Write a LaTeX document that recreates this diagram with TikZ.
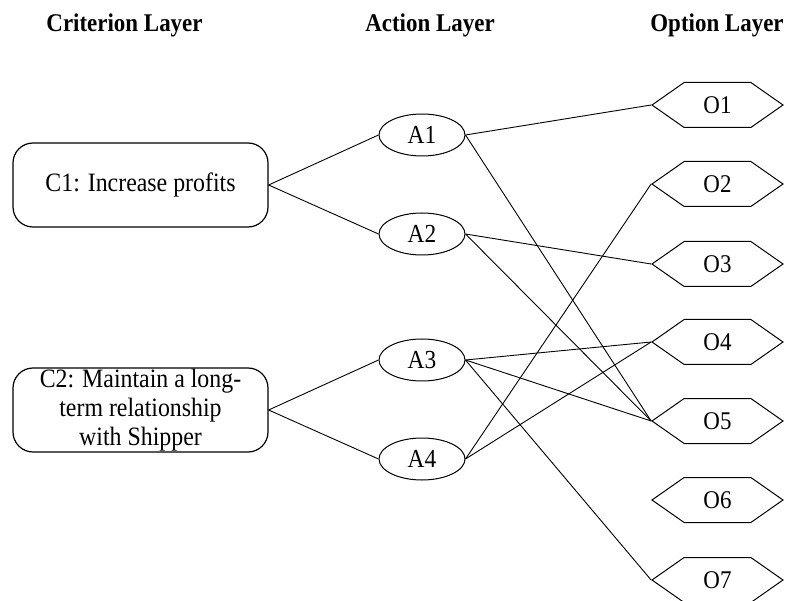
\documentclass[tikz,border=0pt]{standalone}
\usepackage{fontspec}
\setmainfont[FakeStretch=0.9]{Liberation Serif}
\usetikzlibrary{shapes.geometric,shapes.symbols}

\begin{document}
\begin{tikzpicture}[x=1pt,y=-1pt,
    crit/.style={draw,rounded corners=20pt,minimum width=255pt,minimum height=84pt,inner sep=0pt,align=center,font=\fontsize{26.5}{29}\selectfont,line width=1.2pt},
    act/.style={draw,ellipse,minimum width=86pt,minimum height=42pt,inner sep=0pt,font=\fontsize{26}{30}\selectfont,line width=1pt},
    opt/.style={draw,signal,signal to=west and east,signal pointer angle=70,minimum width=131pt,minimum height=45pt,inner sep=0pt,font=\fontsize{25.5}{30}\selectfont,line width=1pt},
    layer/.style={font=\bfseries\fontsize{25.5}{30}\selectfont,anchor=base},
    link/.style={line width=0.9pt}]
  \useasboundingbox (0,0) rectangle (787,601);

  % layer titles
  \node[layer] (critlayer) at (124.5,32) {Criterion Layer};
  \node[layer] (actlayer) at (430,32) {Action Layer};
  \node[layer] (optlayer) at (717,32) {Option Layer};

  % criteria
  \node[crit] (c1) at (140.5,185) {C1: Increase profits};
  \node[crit] (c2) at (140.5,410) {C2: Maintain a long-\\term relationship\\with Shipper};

  % actions
  \node[act] (a1) at (422,135) {A1};
  \node[act] (a2) at (422,234) {A2};
  \node[act] (a3) at (422,360) {A3};
  \node[act] (a4) at (422,459) {A4};

  % options
  \foreach \i/\y in {1/105,2/184,3/264,4/342,5/421,6/500,7/580}
    \node[opt] (o\i) at (717.5,\y) {O\i};

  % links
  \draw[link] (c1.east) -- (a1.west);
  \draw[link] (c1.east) -- (a2.west);
  \draw[link] (c2.east) -- (a3.west);
  \draw[link] (c2.east) -- (a4.west);
  \draw[link] (a1.east) -- (o1.west);
  \draw[link] (a1.east) -- (o5.west);
  \draw[link] (a2.east) -- (o3.west);
  \draw[link] (a2.east) -- (o5.west);
  \draw[link] (a3.east) -- (o4.west);
  \draw[link] (a3.east) -- (o5.west);
  \draw[link] (a3.east) -- (o7.west);
  \draw[link] (a4.east) -- (o2.west);
  \draw[link] (a4.east) -- (o4.west);
\end{tikzpicture}
\end{document}
